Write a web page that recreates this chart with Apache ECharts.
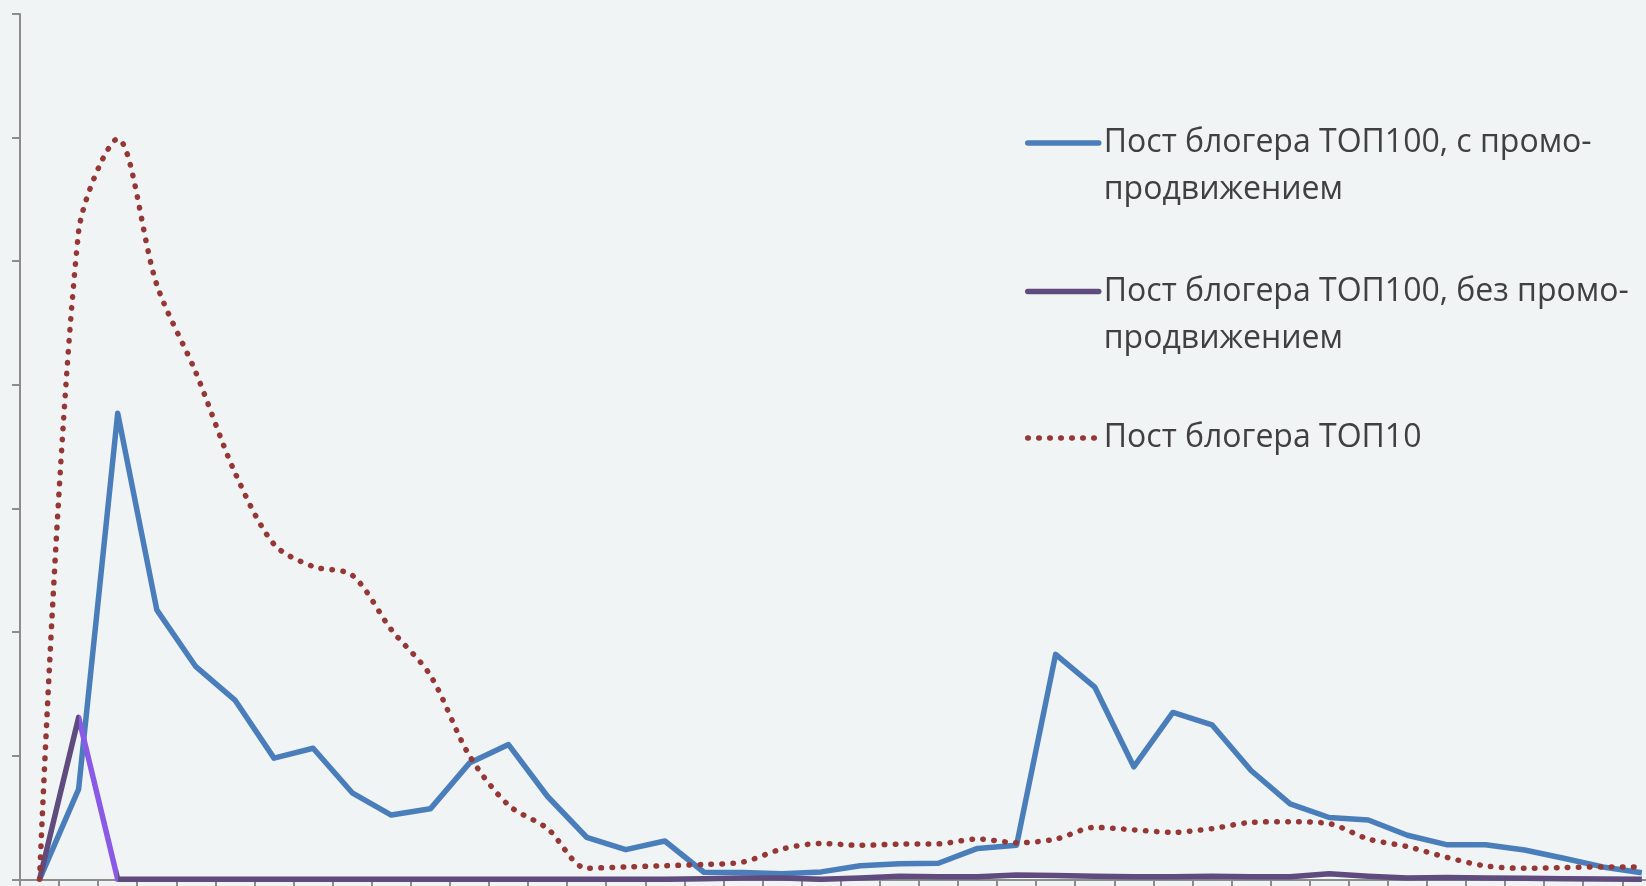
<!DOCTYPE html>
<html>
<head>
<meta charset="utf-8">
<script src="https://cdn.jsdelivr.net/npm/echarts@6/dist/echarts.min.js"></script>
<style>
html,body{margin:0;padding:0;background:#F0F4F5;}
#c{width:1646px;height:886px;}
</style>
</head>
<body>
<div id="c"></div>
<script>
var categories = [];
for (var k = 1; k <= 42; k++) categories.push(String(k));

var seriesNames = [
  'Пост блогера ТОП100, с промо-продвижением',
  'Пост блогера ТОП100, без промо-продвижением',
  'Пост блогера ТОП10'
];

var promoValues = [0, 0.73, 3.77, 2.18, 1.72, 1.45, 0.98, 1.06, 0.70, 0.52,
  0.57, 0.94, 1.09, 0.67, 0.34, 0.24, 0.31, 0.057, 0.055, 0.045,
  0.06, 0.11, 0.126, 0.13, 0.25, 0.275, 1.82, 1.555, 0.91, 1.35,
  1.25, 0.88, 0.61, 0.50, 0.48, 0.356, 0.28, 0.28, 0.237, 0.17,
  0.10, 0.053];

var noPromoValues = [0, 1.31, 0, 0, 0, 0, 0, 0, 0, 0,
  0, 0, 0, 0, 0, 0, 0, 0.005, 0.01, 0.01,
  0, 0.01, 0.025, 0.02, 0.02, 0.035, 0.03, 0.025, 0.02, 0.02,
  0.025, 0.02, 0.02, 0.045, 0.025, 0.01, 0.015, 0.01, 0.008, 0.005,
  0.003, 0];

var top10Values = [0, 5.24, 5.99, 4.81, 4.10, 3.29, 2.71, 2.53, 2.46, 2.02,
  1.65, 1.0, 0.60, 0.41, 0.09, 0.10, 0.11, 0.12, 0.14, 0.245,
  0.29, 0.275, 0.285, 0.287, 0.326, 0.296, 0.325, 0.42, 0.40, 0.38,
  0.41, 0.46, 0.466, 0.45, 0.326, 0.264, 0.178, 0.108, 0.089, 0.095,
  0.10, 0.10];

var BLUE = '#4A7EBB', PURPLE = '#5F4B7E', VIOLET = '#8A5AE6', RED = '#953735';
var AXIS = '#8C8C8C';
var DOTS = [0.5, 10.5];

var chart = echarts.init(document.getElementById('c'));

function legendFor(i, top, color, lineType, twoLine) {
  return {
    show: true,
    orient: 'vertical',
    left: 1025,
    top: top,
    padding: 0,
    itemWidth: 71,
    itemHeight: 14,
    selectedMode: false,
    data: [{
      name: seriesNames[i],
      itemStyle: { opacity: 0 },
      lineStyle: { color: color, width: 5.5, type: lineType, cap: 'round' }
    }],
    formatter: function (n) {
      return twoLine ? '\n' + n.replace('промо-', 'промо-\n') : n;
    },
    textStyle: {
      fontFamily: 'Open Sans',
      fontSize: 32,
      color: '#404040',
      lineHeight: 47
    }
  };
}

chart.setOption({
  backgroundColor: '#F0F4F5',
  animation: false,
  grid: {
    left: 20, top: 14, width: 1641.4, height: 865.3,
    containLabel: false, outerBoundsMode: 'none'
  },
  xAxis: {
    type: 'category',
    data: categories,
    boundaryGap: true,
    axisLine: { show: true, lineStyle: { color: AXIS, width: 2 } },
    axisTick: { show: true, interval: 0, length: 8, lineStyle: { color: AXIS, width: 2 } },
    axisLabel: { show: false },
    splitLine: { show: false }
  },
  yAxis: {
    type: 'value',
    min: 0, max: 7, interval: 1,
    axisLine: { show: true, lineStyle: { color: AXIS, width: 2 } },
    axisTick: { show: true, length: 8, lineStyle: { color: AXIS, width: 2 } },
    axisLabel: { show: false },
    splitLine: { show: false }
  },
  legend: [
    legendFor(0, 72.5, BLUE, 'solid', true),
    legendFor(1, 221, PURPLE, 'solid', true),
    legendFor(2, 414.5, RED, DOTS, false)
  ],
  visualMap: [{
    show: false,
    type: 'piecewise',
    seriesIndex: 1,
    dimension: 0,
    pieces: [
      { lt: 1, color: PURPLE },
      { gte: 1, lt: 2, color: VIOLET },
      { gte: 2, color: PURPLE }
    ]
  }],
  series: [
    {
      name: seriesNames[0], type: 'line', data: promoValues,
      symbol: 'none', smooth: false,
      lineStyle: { color: BLUE, width: 5.5, join: 'round' },
      itemStyle: { color: BLUE }
    },
    {
      name: seriesNames[1], type: 'line', data: noPromoValues,
      symbol: 'none', smooth: false,
      lineStyle: { width: 5.5, join: 'round' },
      itemStyle: { color: PURPLE }
    },
    {
      name: seriesNames[2], type: 'line', data: top10Values,
      symbol: 'none', smooth: 0.3,
      lineStyle: { color: RED, width: 5.5, type: DOTS, cap: 'round' },
      itemStyle: { color: RED }
    }
  ]
});
</script>
</body>
</html>
